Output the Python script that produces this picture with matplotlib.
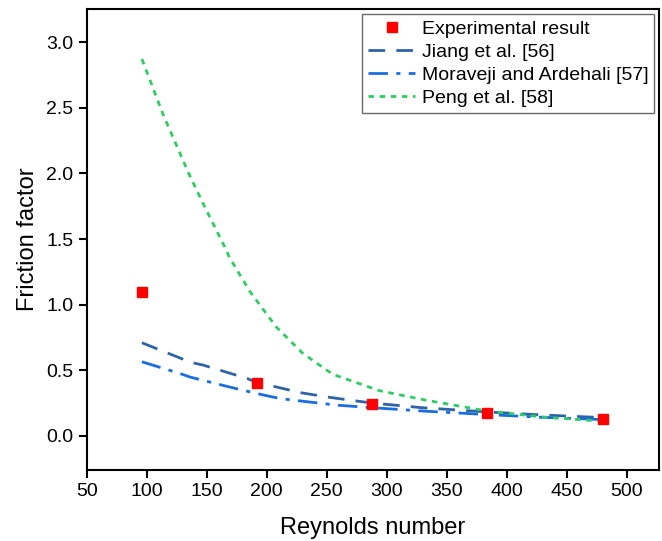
import numpy as np
import matplotlib
matplotlib.use("Agg")
import matplotlib.pyplot as plt

# experimental points
re_exp = [96, 192, 288, 384, 480]
f_exp = [1.10, 0.40, 0.24, 0.175, 0.128]

# correlations
re_jiang = [96, 137, 147, 184, 191, 228, 252, 270, 289, 330, 384, 430, 480]
f_jiang = [0.71, 0.56, 0.54, 0.437, 0.41, 0.33, 0.295, 0.272, 0.25, 0.215, 0.183, 0.16, 0.14]

re_mora = [96, 128, 136, 169, 192, 211, 258, 289, 330, 384, 430, 480]
f_mora = [0.565, 0.475, 0.449, 0.373, 0.323, 0.285, 0.235, 0.215, 0.19, 0.163, 0.142, 0.125]

re_peng = [96, 114, 135, 147, 165, 169, 186, 208, 230, 255, 294, 333, 384, 430, 480]
f_peng = [2.87, 2.44, 2.00, 1.77, 1.44, 1.36, 1.10, 0.83, 0.63, 0.47, 0.345, 0.272, 0.19, 0.145, 0.112]

plt.rcParams['font.family'] = ['Liberation Sans', 'DejaVu Sans']

fig = plt.figure(figsize=(6.62, 5.41), dpi=100)
ax = fig.add_axes([0.131, 0.131, 0.8645, 0.852])

ax.plot(re_exp, f_exp, 's', color='#ff0000', markersize=7.5, label='Experimental result', zorder=5)
ax.plot(re_jiang, f_jiang, color='#2f63a6', lw=2, dashes=(6, 4), label='Jiang et al. [56]')
ax.plot(re_mora, f_mora, color='#1a6de0', lw=2, dashes=(7, 3, 1.5, 3), label='Moraveji and Ardehali [57]')
ax.plot(re_peng, f_peng, color='#2ecc64', lw=2, dashes=(2, 2), label='Peng et al. [58]')

ax.set_xlim(50, 527)
ax.set_ylim(-0.26, 3.25)
ax.set_xticks(np.arange(50, 501, 50))
ax.set_yticks(np.arange(0, 3.01, 0.5))
ax.yaxis.set_major_formatter(matplotlib.ticker.FormatStrFormatter('%.1f'))
ax.tick_params(labelsize=14, width=1.5, length=6)
for s in ax.spines.values():
    s.set_linewidth(1.5)

ax.set_xlabel('Reynolds number', fontsize=17, labelpad=12)
ax.set_ylabel('Friction factor', fontsize=17, labelpad=5)

leg = ax.legend(loc='upper right', fontsize=14, frameon=True, fancybox=False,
                edgecolor='#444444', handlelength=2.4, handletextpad=0.35,
                borderaxespad=0.25, labelspacing=0.28, borderpad=0.3)
leg.get_frame().set_linewidth(1.0)

fig.savefig('out.png', dpi=100)
